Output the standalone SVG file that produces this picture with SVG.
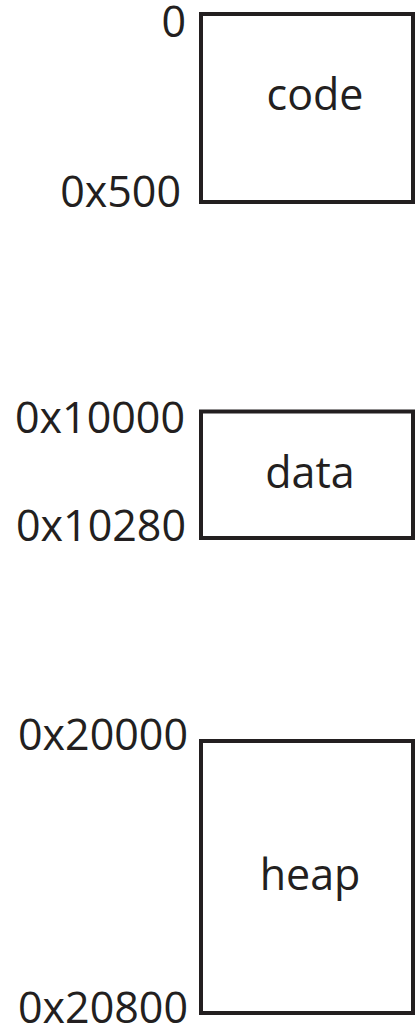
<svg xmlns="http://www.w3.org/2000/svg" width="415" height="1029" viewBox="0 0 415 1029">
<style>
.box{fill:#fff;stroke:#231f20;stroke-width:4}
.addr{font-family:"Open Sans","Liberation Sans",sans-serif;font-size:43px;fill:#231f20;text-anchor:end}
.lbl{font-family:"Open Sans","Liberation Sans",sans-serif;font-size:43px;fill:#231f20;text-anchor:middle}
</style>
<rect width="415" height="1029" fill="#fff"/>
<g id="code">
<rect class="box" x="201" y="14" width="212" height="188"/>
<text class="lbl" x="315" y="110">code</text>
<text class="addr" x="186" y="37">0</text>
<text class="addr" x="181" y="207">0x500</text>
</g>
<g id="data">
<rect class="box" x="201" y="411.5" width="212" height="126.5"/>
<text class="lbl" x="310" y="488">data</text>
<text class="addr" x="185" y="433">0x10000</text>
<text class="addr" x="186" y="541">0x10280</text>
</g>
<g id="heap">
<rect class="box" x="201" y="741" width="212" height="272"/>
<text class="lbl" x="310" y="890">heap</text>
<text class="addr" x="188" y="750">0x20000</text>
<text class="addr" x="188" y="1023">0x20800</text>
</g>
<g id="connectors"></g>
</svg>
